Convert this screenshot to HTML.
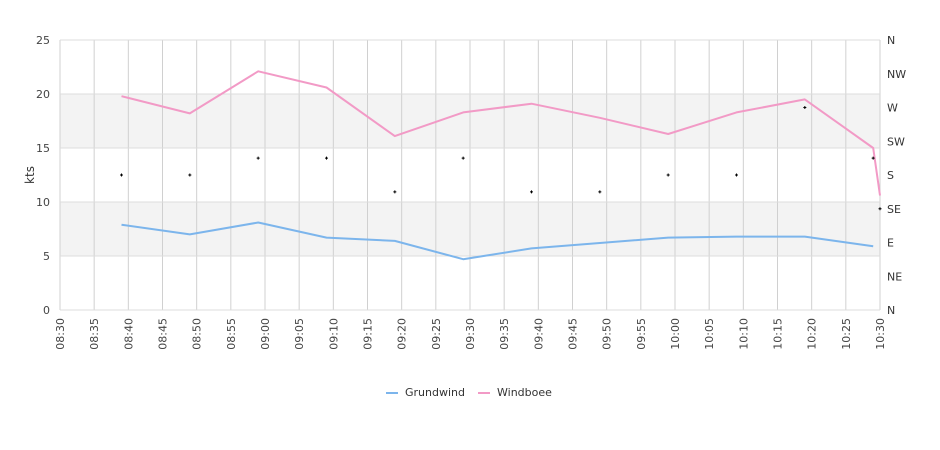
<!DOCTYPE html>
<html><head><meta charset="utf-8"><style>
body{margin:0;background:#fff;}
svg{display:block;font-family:"DejaVu Sans","Liberation Sans",sans-serif;}
</style></head><body>
<svg id="chart" width="940" height="450">
<g id="bands"></g><g id="grid"></g><g id="axes"></g><g id="series"></g><g id="dots"></g>
<text transform="translate(34,175) rotate(-90)" text-anchor="middle" font-size="12" fill="#333">kts</text>
<g>
<g><line x1="386" y1="393" x2="398" y2="393" stroke="#7cb5ec" stroke-width="2"/><text x="405" y="396" font-size="11" fill="#333">Grundwind</text></g>
<g><line x1="478" y1="393" x2="490" y2="393" stroke="#f29ac6" stroke-width="2"/><text x="497" y="396" font-size="11" fill="#333">Windboee</text></g>
</g>
</svg>
<script>
const times=["08:39","08:49","08:59","09:09","09:19","09:29","09:39","09:49","09:59","10:09","10:19","10:29","10:30"];
const grundwind=[7.9,7.0,8.1,6.7,6.4,4.7,5.7,6.2,6.7,6.8,6.8,5.9,null];
const windboee=[19.8,18.2,22.1,20.6,16.1,18.3,19.1,17.8,16.3,18.3,19.5,15.0,10.6];
const direction=[180,180,202.5,202.5,157.5,202.5,157.5,157.5,180,180,270,202.5,135];
const xTicks=["08:30","08:35","08:40","08:45","08:50","08:55","09:00","09:05","09:10","09:15","09:20","09:25","09:30","09:35","09:40","09:45","09:50","09:55","10:00","10:05","10:10","10:15","10:20","10:25","10:30"];
const yTicks=[0,5,10,15,20,25];
const dirLabels=["N","NE","E","SE","S","SW","W","NW","N"];
const NS="http://www.w3.org/2000/svg";
const X0=60,X1=880,Y0=310,Y1=40;
function mins(t){const p=t.split(":");return +p[0]*60+ +p[1];}
const tmin=mins("08:30"),tmax=mins("10:30");
function x(t){return X0+(mins(t)-tmin)/(tmax-tmin)*(X1-X0);}
function y(v){return Y0-v/25*(Y0-Y1);}
function yd(d){return Y0-d/360*(Y0-Y1);}
function mk(tag,attrs,parent,txt){const e=document.createElementNS(NS,tag);for(const k in attrs)e.setAttribute(k,attrs[k]);if(txt!=null)e.textContent=txt;document.getElementById(parent).appendChild(e);return e;}
[[5,10],[15,20]].forEach(b=>{const r=mk("rect",{x:X0,y:y(b[1]),width:X1-X0,height:y(b[0])-y(b[1]),fill:"#f3f3f3"},"bands");

});
xTicks.forEach(t=>{const l=mk("line",{x1:x(t),x2:x(t),y1:Y1,y2:Y0,stroke:"#d0d0d0","stroke-width":1},"grid");


const tx=mk("text",{transform:`translate(${x(t)+4},318) rotate(-90)`,"text-anchor":"end","font-size":11,fill:"#444"},"axes",t);

});
yTicks.forEach(v=>{const l=mk("line",{x1:X0,x2:X1,y1:y(v),y2:y(v),stroke:"#dcdcdc","stroke-width":1},"grid");


const tx=mk("text",{x:50,y:y(v)+4,"text-anchor":"end","font-size":11,fill:"#444"},"axes",v);

});
dirLabels.forEach((d,i)=>{const tx=mk("text",{x:887,y:yd(i*45)+4,"font-size":11,fill:"#333"},"axes",d);

});
function path(vals){let s="";vals.forEach((v,i)=>{if(v==null)return;s+=(s?"L":"M")+x(times[i]).toFixed(1)+","+y(v).toFixed(1);});return s;}
const g=mk("path",{d:path(grundwind),fill:"none",stroke:"#7cb5ec","stroke-width":2,"stroke-linejoin":"round"},"series");


const w=mk("path",{d:path(windboee),fill:"none",stroke:"#f29ac6","stroke-width":2,"stroke-linejoin":"round"},"series");


direction.forEach((d,i)=>{const cx=x(times[i]),cy=yd(d);
const p=mk("path",{d:`M${cx-1.5},${cy}H${cx+1.5}M${cx},${cy-1.5}V${cy+1.5}`,stroke:"#000","stroke-width":1},"dots");

});
</script>
</body></html>
